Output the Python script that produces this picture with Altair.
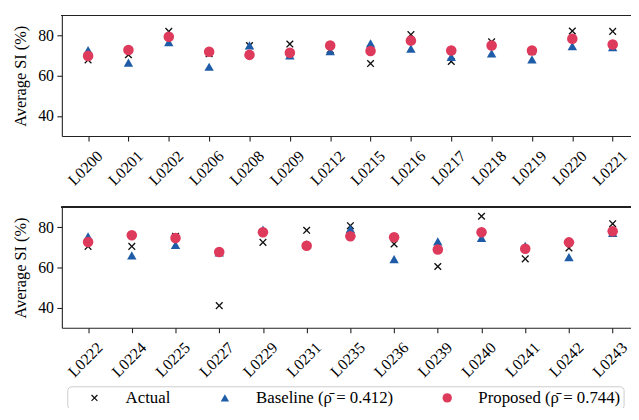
import altair as alt
import pandas as pd

series = ["Actual", "Baseline (ρ̄ = 0.412)", "Proposed (ρ̄ = 0.744)"]
colors = ["#111111", "#1f5ca8", "#de3a5c"]
shapes = [
    "M0,-0.18L0.54,-0.72L0.72,-0.54L0.18,0L0.72,0.54L0.54,0.72L0,0.18L-0.54,0.72L-0.72,0.54L-0.18,0L-0.72,-0.54L-0.54,-0.72Z",
    "M0,-0.78L0.89,0.78L-0.89,0.78Z",
    "circle",
]

cats1 = ["L0200", "L0201", "L0202", "L0206", "L0208", "L0209", "L0212",
         "L0215", "L0216", "L0217", "L0218", "L0219", "L0220", "L0221"]
actual1 = [67.9, 70.5, 82.1, 71.0, 75.0, 75.8, 73.0, 66.1, 80.5, 67.1, 76.9, 72.0, 82.3, 82.1]
baseline1 = [72.8, 66.6, 76.8, 64.5, 75.1, 70.2, 72.3, 76.1, 73.5, 69.4, 71.2, 68.2, 74.8, 74.3]
proposed1 = [69.9, 72.8, 79.4, 72.0, 70.4, 71.5, 75.1, 72.3, 77.5, 72.6, 75.1, 72.6, 78.4, 75.6]

cats2 = ["L0222", "L0224", "L0225", "L0227", "L0229", "L0231", "L0235",
         "L0236", "L0239", "L0240", "L0241", "L0242", "L0243"]
actual2 = [70.5, 70.5, 75.5, 41.0, 72.5, 78.5, 80.8, 71.7, 60.5, 85.5, 64.3, 69.7, 81.8]
baseline2 = [75.5, 66.0, 71.3, 67.5, 78.8, 71.5, 79.2, 64.2, 73.0, 74.7, 70.8, 65.2, 77.2]
proposed2 = [72.7, 76.0, 74.7, 67.7, 77.5, 70.8, 75.5, 75.0, 68.9, 77.5, 69.3, 72.5, 78.0]

y_domain = [30, 90]
y_ticks = [40, 60, 80]

FONT = "Liberation Serif, Times New Roman, Times, serif"
FS = 16.5
LFS = 17
TFS = 16
SPINE = "#222222"


def build_df(cats, actual, baseline, proposed):
    rows = []
    for z, (name, vals) in enumerate(zip(series, [actual, baseline, proposed])):
        for c, v in zip(cats, vals):
            rows.append({"loc": c, "val": v, "series": name, "z": z})
    return pd.DataFrame(rows)


legend = alt.Legend(
    title=None, orient="none", legendX=5.5, legendY=375.25, direction="horizontal",
    labelFont=FONT, labelFontSize=LFS, labelColor="black",
    symbolSize=90, symbolOffset=16, labelOffset=23, columnPadding=30,
    padding=3, strokeColor="#cccccc", fillColor="white", cornerRadius=4,
    symbolStrokeWidth=0,
)


def panel(cats, actual, baseline, proposed, pad):
    df = build_df(cats, actual, baseline, proposed)
    pts = alt.Chart(df).mark_point(filled=True, opacity=1, size=114).encode(
        x=alt.X("loc:N", sort=cats, scale=alt.Scale(type="point", padding=pad),
                axis=alt.Axis(title=None, labelAngle=-45, labelAlign="center",
                              labelBaseline="middle", labelPadding=27, labelOffset=-3)),
        y=alt.Y("val:Q", scale=alt.Scale(domain=y_domain, nice=False, zero=False),
                axis=alt.Axis(title="Average SI (%)", values=y_ticks)),
        color=alt.Color("series:N", scale=alt.Scale(domain=series, range=colors), legend=legend),
        shape=alt.Shape("series:N", scale=alt.Scale(domain=series, range=shapes), legend=legend),
        order=alt.Order("z:Q"),
    )
    top_spine = alt.Chart(df).mark_rule(color=SPINE, strokeWidth=1.1).encode(
        y=alt.datum(y_domain[1])
    )
    return alt.layer(pts, top_spine).properties(width=584, height=122)


top = panel(cats1, actual1, baseline1, proposed1, 0.65)
bottom = panel(cats2, actual2, baseline2, proposed2, 0.6)

chart = alt.vconcat(top, bottom, spacing=72, bounds="flush").properties(
    padding={"left": 4.5, "top": 4.2, "right": -9, "bottom": -4},
).configure_view(
    stroke=None
).configure_axis(
    labelFont=FONT, labelFontSize=TFS, labelColor="black",
    titleFont=FONT, titleFontSize=FS, titleFontWeight="normal", titleColor="black",
    tickColor=SPINE, tickWidth=1.1, tickSize=5, grid=False,
    domain=True, domainColor=SPINE, domainWidth=1.1,
    labelPadding=3.5, titlePadding=9,
)

chart.save("out.html", embed_options={"renderer": "svg", "actions": False})
